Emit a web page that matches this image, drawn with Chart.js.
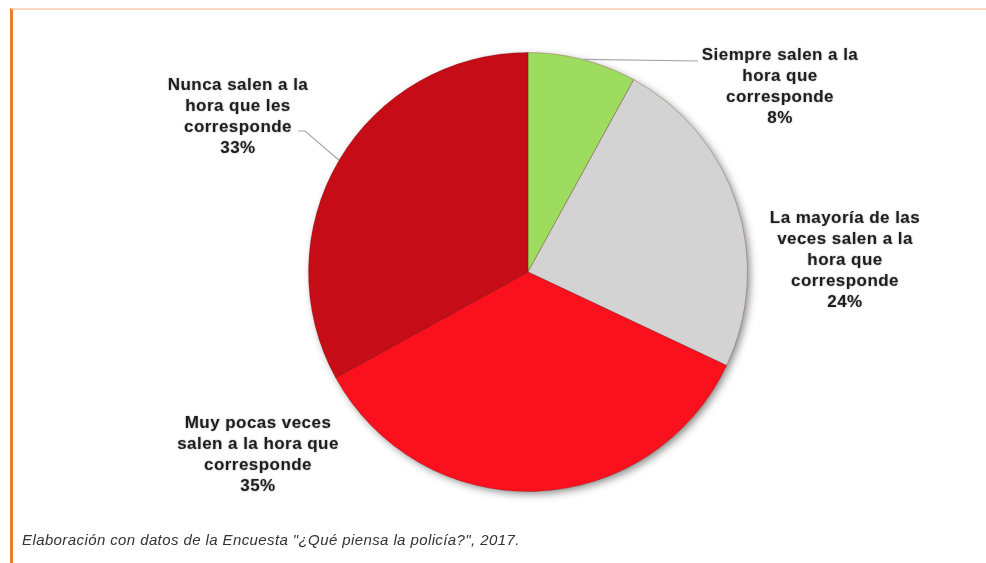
<!DOCTYPE html>
<html>
<head>
<meta charset="utf-8">
<script src="https://cdn.jsdelivr.net/npm/chart.js@4.4.0/dist/chart.umd.min.js"></script>
<style>
  html, body { margin: 0; padding: 0; background: #fff; }
  #wrap { position: relative; width: 986px; height: 563px; overflow: hidden; }
  #grafico { position: absolute; left: 0; top: 0; }
  #marco { position: absolute; left: 10px; top: 8px; right: 0; bottom: -5px;
           border-left: 3px solid #f07c2a; border-top: 2px solid #fcd6bd; }
  #fuente { position: absolute; left: 22px; top: 531px; margin: 0; letter-spacing: 0.4px;
            font: italic 15px "Liberation Sans", Arial, sans-serif; color: #333; }
</style>
</head>
<body>
<div id="wrap">
  <canvas id="grafico" width="986" height="563"></canvas>
  <div id="marco"></div>
  <p id="fuente">Elaboración con datos de la Encuesta "¿Qué piensa la policía?", 2017.</p>
</div>
<script>
// datos
const categorias = [
    ["Siempre salen a la", "hora que", "corresponde"],
    ["La mayoría de las", "veces salen a la", "hora que", "corresponde"],
    ["Muy pocas veces", "salen a la hora que", "corresponde"],
    ["Nunca salen a la", "hora que les", "corresponde"]
];
const valores = [8, 24, 35, 33];
const colores = ["#9ddc5f", "#d3d3d3", "#fb111d", "#c60c16"];

// posición de las etiquetas (centro x, y de la primera línea) y fin de la línea guía
const etiquetas = [
    { x: 780, y: 55, guia: [698, 61] },
    { x: 845, y: 218, guia: null },
    { x: 258, y: 423, guia: null },
    { x: 238, y: 85, guia: [305, 131], codo: [298, 131] }
];

const sombraPie = {
    id: 'sombraPie',
    beforeDatasetsDraw(chart) {
        const arc = chart.getDatasetMeta(0).data[0];
        if (!arc) return;
        const ctx = chart.ctx;
        ctx.save();
        ctx.shadowColor = 'rgba(0,0,0,0.5)';
        ctx.shadowBlur = 8;
        ctx.shadowOffsetX = 3;
        ctx.shadowOffsetY = 3;
        ctx.fillStyle = '#999';
        ctx.beginPath();
        ctx.arc(arc.x, arc.y, arc.outerRadius - 1, 0, Math.PI * 2);
        ctx.fill();
        ctx.restore();
    }
};

const textos = {
    id: 'textos',
    afterDatasetsDraw(chart) {
        const ctx = chart.ctx;
        const meta = chart.getDatasetMeta(0);
        ctx.save();
        meta.data.forEach((arc, i) => {
            const e = etiquetas[i];
            if (e.guia) {
                const mid = (arc.startAngle + arc.endAngle) / 2;
                const px = arc.x + Math.cos(mid) * arc.outerRadius;
                const py = arc.y + Math.sin(mid) * arc.outerRadius;
                ctx.strokeStyle = '#a5a5a5';
                ctx.lineWidth = 1.2;
                ctx.beginPath();
                ctx.moveTo(px, py);
                ctx.lineTo(e.guia[0], e.guia[1]);
                if (e.codo) ctx.lineTo(e.codo[0], e.codo[1]);
                ctx.stroke();
            }
            const lineas = categorias[i].concat([valores[i] + "%"]);
            ctx.font = 'bold 17px "Liberation Sans", Arial, sans-serif';
            ctx.letterSpacing = '0.45px';
            ctx.fillStyle = '#1e1e1e';
            ctx.textAlign = 'center';
            ctx.textBaseline = 'middle';
            ctx.shadowColor = 'rgba(0,0,0,0.35)';
            ctx.shadowBlur = 2;
            lineas.forEach((t, k) => {
                ctx.fillText(t, e.x, e.y + k * 21);
            });
            ctx.shadowBlur = 0;
        });
        ctx.restore();
    }
};

new Chart(document.getElementById('grafico'), {
    type: 'pie',
    data: {
        labels: categorias.map(c => c.join(' ')),
        datasets: [{
            data: valores,
            backgroundColor: colores,
            borderColor: 'rgba(90,0,0,0.25)',
            borderWidth: 1
        }]
    },
    options: {
        responsive: false,
        animation: false,
        layout: { padding: { top: 52, bottom: 71, left: 308, right: 238 } },
        plugins: {
            legend: { display: false },
            tooltip: { enabled: false }
        }
    },
    plugins: [sombraPie, textos]
});
</script>
</body>
</html>
